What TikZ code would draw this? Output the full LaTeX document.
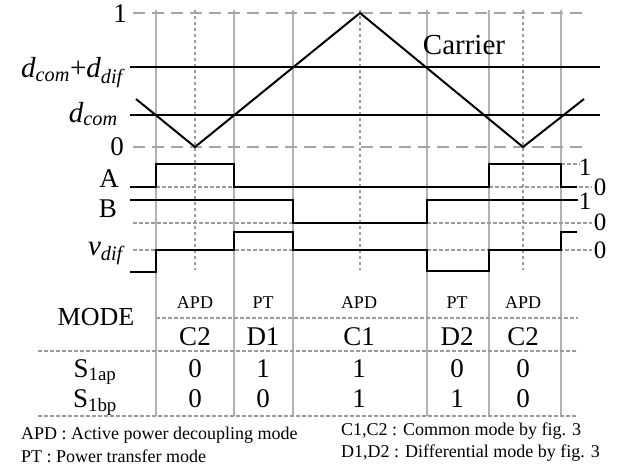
\documentclass[tikz,border=0pt]{standalone}
\usepackage{fontspec}
\setmainfont{Liberation Serif}
\definecolor{gridgray}{RGB}{178, 178, 178}
\definecolor{refgray}{RGB}{165, 165, 165}
\definecolor{dotgray}{RGB}{155, 155, 155}

\begin{document}
\begin{tikzpicture}[x=1pt, y=-1pt,
  wave/.style={line width=2pt, line join=miter},
  levelline/.style={line width=1.6pt},
  colline/.style={draw=gridgray, line width=1.4pt},
  refline/.style={draw=refgray, line width=1.5pt, dash pattern=on 12pt off 7pt},
  midline/.style={draw=dotgray, line width=1.2pt, dash pattern=on 3pt off 3pt},
  dotline/.style={draw=dotgray, line width=1.1pt, dash pattern=on 4pt off 2pt},
  lbl/.style={inner sep=0pt, anchor=base, font=\fontsize{27}{27}\selectfont},
  biglbl/.style={inner sep=0pt, anchor=base, font=\fontsize{29}{29}\selectfont},
  sidelbl/.style={inner sep=0pt, anchor=base, font=\fontsize{25}{25}\selectfont},
  small/.style={inner sep=0pt, anchor=base, font=\fontsize{18}{18}\selectfont}]
  \useasboundingbox (0,0) rectangle (628,468);

  % column borders and half-period marks
  \foreach \x in {156, 234, 293, 427, 489, 561}
    \draw[colline] (\x,10) -- (\x,416);
  \foreach \x in {195, 360, 523}
    \draw[midline] (\x,10) -- (\x,270);

  % carrier limits and duty levels
  \draw[refline] (133,13) -- (588,13);
  \draw[refline] (133,147) -- (588,147);
  \draw[levelline] (130,67) -- (600,67);
  \draw[levelline] (130,115) -- (600,115);

  % carrier
  \draw[wave] (136,99) -- (195,147) -- (360,13) -- (523,147) -- (584,99);
  \node[biglbl] (carrier) at (464,55) {Carrier};

  % zero and one marks of the gate signals
  \draw[dotline] (156,187) -- (234,187);
  \draw[dotline] (489,187) -- (592,187);
  \draw[dotline] (561,164) -- (580,164);
  \draw[dotline] (133,223) -- (592,223);
  \draw[dotline] (133,250) -- (592,250);

  % gate signals A, B and v_dif
  \draw[wave] (130,187) -| (156,164) -| (234,187) -| (489,164) -| (561,187) -- (577,187);
  \draw[wave] (130,200) -| (293,223) -| (427,200) -- (578,200);
  \draw[wave] (130,272) -| (156,250) -| (234,232) -| (293,250) -| (427,271) -| (489,250) -| (561,232) -- (577,232);

  % left axis labels
  \node[lbl] (one) at (120,23) {1};
  \node[biglbl, anchor=base east] (dcd) at (123,78) {\itshape d\textsubscript{com}\upshape+\itshape d\textsubscript{dif}};
  \node[biglbl, anchor=base east] (dc) at (118,122) {\itshape d\textsubscript{com}};
  \node[lbl] (zero) at (117,155) {0};
  \node[lbl] (sigA) at (109,187) {A};
  \node[lbl] (sigB) at (108,217) {B};
  \node[biglbl, anchor=base east] (vdif) at (123,255) {\itshape v\textsubscript{dif}};

  % right level marks
  \node[sidelbl] (Ahi) at (585,175) {1};
  \node[sidelbl] (Alo) at (600,195) {0};
  \node[sidelbl] (Bhi) at (585,209) {1};
  \node[sidelbl] (Blo) at (600,230) {0};
  \node[sidelbl] (vzero) at (600,258) {0};

  % mode table
  \draw[dotline] (156,318) -- (578,318);
  \draw[dotline] (38,351) -- (578,351);
  \draw[dotline] (38,416) -- (578,416);
  \node[lbl, font=\fontsize{26}{26}\selectfont] (mode) at (96,325) {MODE};
  \node[lbl] (sap) at (95,377) {S\textsubscript{1ap}};
  \node[lbl] (sbp) at (95,407) {S\textsubscript{1bp}};
  \foreach \x/\m/\c/\a/\b [count=\i] in {195/APD/C2/0/0, 263/PT/D1/1/0, 359/APD/C1/1/1, 457/PT/D2/0/1, 523/APD/C2/0/0} {
    \node[small] (m\i) at (\x,308) {\m};
    \node[lbl] (c\i) at (\x,345) {\c};
    \node[lbl] (a\i) at (\x,377) {\a};
    \node[lbl] (b\i) at (\x,407) {\b};
  }

  % legend
  \node[small, anchor=base west] (apd) at (21,439) {APD : Active power decoupling mode};
  \node[small, anchor=base west] (pt) at (21,462) {PT : Power transfer mode};
  \node[small, anchor=base west] (cmode) at (341,435) {C1,C2 : Common mode by fig. 3};
  \node[small, anchor=base west] (dmode) at (341,457) {D1,D2 : Differential mode by fig. 3};
\end{tikzpicture}
\end{document}
